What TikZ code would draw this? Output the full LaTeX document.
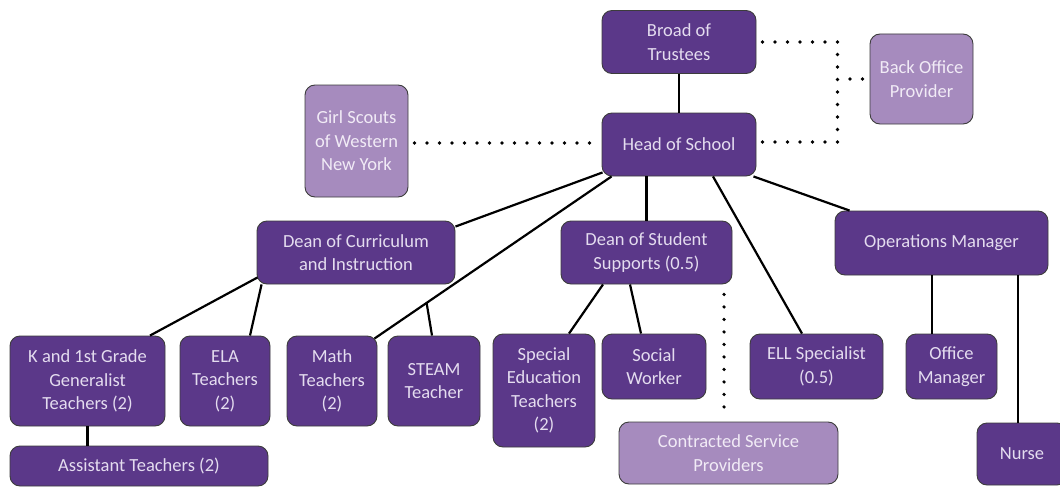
\documentclass[tikz,border=0pt]{standalone}
\usepackage{fontspec}
\setmainfont{Carlito}
\usetikzlibrary{calc}
\definecolor{darkp}{HTML}{5B3889}
\definecolor{lightp}{HTML}{A68BBE}
\definecolor{txtd}{HTML}{E4DCEF}
\definecolor{txtl}{HTML}{F1EBF6}
\definecolor{edge}{HTML}{3C3C3C}
\begin{document}
\begin{tikzpicture}[x=1pt,y=-1pt,
  box/.style={draw=edge,line width=0.9pt,rounded corners=10pt,inner sep=0pt,align=center,
    font=\fontsize{18.5}{23.5}\selectfont},
  dk/.style={box,fill=darkp,text=txtd},
  lt/.style={box,fill=lightp,text=txtl},
  conn/.style={line width=2.2pt,black},
  dots/.style={line width=3.6pt,line cap=round,dash pattern=on 0pt off 12.5pt,black}]
\useasboundingbox (0,0) rectangle (1060,487);
\clip (0,0) rectangle (1060,487);
% nodes
\node[dk,minimum width=154,minimum height=63] (trustees) at (679,42) {Broad of\\Trustees};
\node[dk,minimum width=154,minimum height=63] (head) at (679,144.5) {Head of School};
\node[lt,minimum width=103,minimum height=112] (girl) at (356.5,141) {Girl Scouts\\of Western\\New York};
\node[lt,minimum width=103,minimum height=90] (back) at (921.5,79) {Back Office\\Provider};
\node[dk,minimum width=198,minimum height=63] (deancur) at (356,252.5) {Dean of Curriculum\\and Instruction};
\node[dk,minimum width=171,minimum height=63] (deanstu) at (646.5,252.5) {Dean of Student\\Supports (0.5)};
\node[dk,minimum width=213,minimum height=64] (ops) at (941.5,243) {Operations Manager};
\node[dk,minimum width=155,minimum height=90] (kgen) at (87.5,381) {K and 1st Grade\\Generalist\\Teachers (2)};
\node[dk,minimum width=90,minimum height=90] (ela) at (225,381) {ELA\\Teachers\\(2)};
\node[dk,minimum width=90,minimum height=90] (math) at (332,381) {Math\\Teachers\\(2)};
\node[dk,minimum width=92,minimum height=90] (steam) at (434,381) {STEAM\\Teacher};
\node[dk,minimum width=102,minimum height=113] (special) at (544,390.5) {Special\\Education\\Teachers\\(2)};
\node[dk,minimum width=104,minimum height=65] (social) at (654,366.5) {Social\\Worker};
\node[dk,minimum width=133,minimum height=65] (ell) at (816.5,366.5) {ELL Specialist\\(0.5)};
\node[dk,minimum width=91,minimum height=65] (office) at (951.5,366.5) {Office\\Manager};
\node[lt,minimum width=219,minimum height=62] (contracted) at (728.5,453) {Contracted Service\\Providers};
\node[dk,minimum width=90,minimum height=62] (nurse) at (1022,454) {Nurse};
\node[dk,minimum width=258,minimum height=40] (assistant) at (139,466) {Assistant Teachers (2)};
% solid connectors
\draw[conn] (trustees.south) -- (head.north);
\draw[conn] ($(head.south west)+(1,-4)$) -- ($(deancur.north east)+(0,6)$);
\coordinate (mA) at ($(head.south west)+(10,0)$);
\coordinate (mB) at ($(math.north east)+(-3,3)$);
\draw[conn] (mA) -- (mB);
\draw[conn] ($(mA)!0.78!(mB)$) -- ([xshift=-2]steam.north);
\draw[conn] (deanstu.north |- head.south) -- (deanstu.north);
\draw[conn] ($(head.south)+(34,0)$) -- ($(ell.north)+(-14.5,0)$);
\draw[conn] ($(head.south east)+(-3,0)$) -- ($(ops.north west)+(15,0)$);
\draw[conn] ($(deancur.south west)+(1,-7)$) -- ($(kgen.north)+(62.5,0)$);
\draw[conn] ($(deancur.south west)+(5,0)$) -- ($(ela.north)+(25,0)$);
\draw[conn] (kgen.south) -- (kgen.south |- assistant.north);
\draw[conn] ($(deanstu.south)+(-43.5,0)$) -- ($(special.north)+(25,0)$);
\draw[conn] ($(deanstu.south)+(-16.5,0)$) -- ($(social.north)+(-13,0)$);
\draw[conn] ([xshift=-9.5]ops.south) -- ([xshift=-9.5]ops.south |- office.north);
\draw[conn] ([xshift=-4]nurse.north |- ops.south) -- ([xshift=-4]nurse.north);
% dotted connectors
\coordinate (bj) at ($(trustees.east)+(81,37)$);
\draw[dots] ($(trustees.east)+(6,0)$) -- ++(75,0) |- ($(head.east)+(6,-2.5)$);
\draw[dots] ($(bj)+(12.5,0)$) -- ($(back.west)+(-6,0)$);
\draw[dots] ($(girl.east)+(6,2)$) -- ($(head.west)+(-6,-1.5)$);
\coordinate (cs) at ($(deanstu.south)+(77.5,10)$);
\draw[dots] (cs) -- ($(cs |- contracted.north)+(0,-10)$);
\end{tikzpicture}
\end{document}
